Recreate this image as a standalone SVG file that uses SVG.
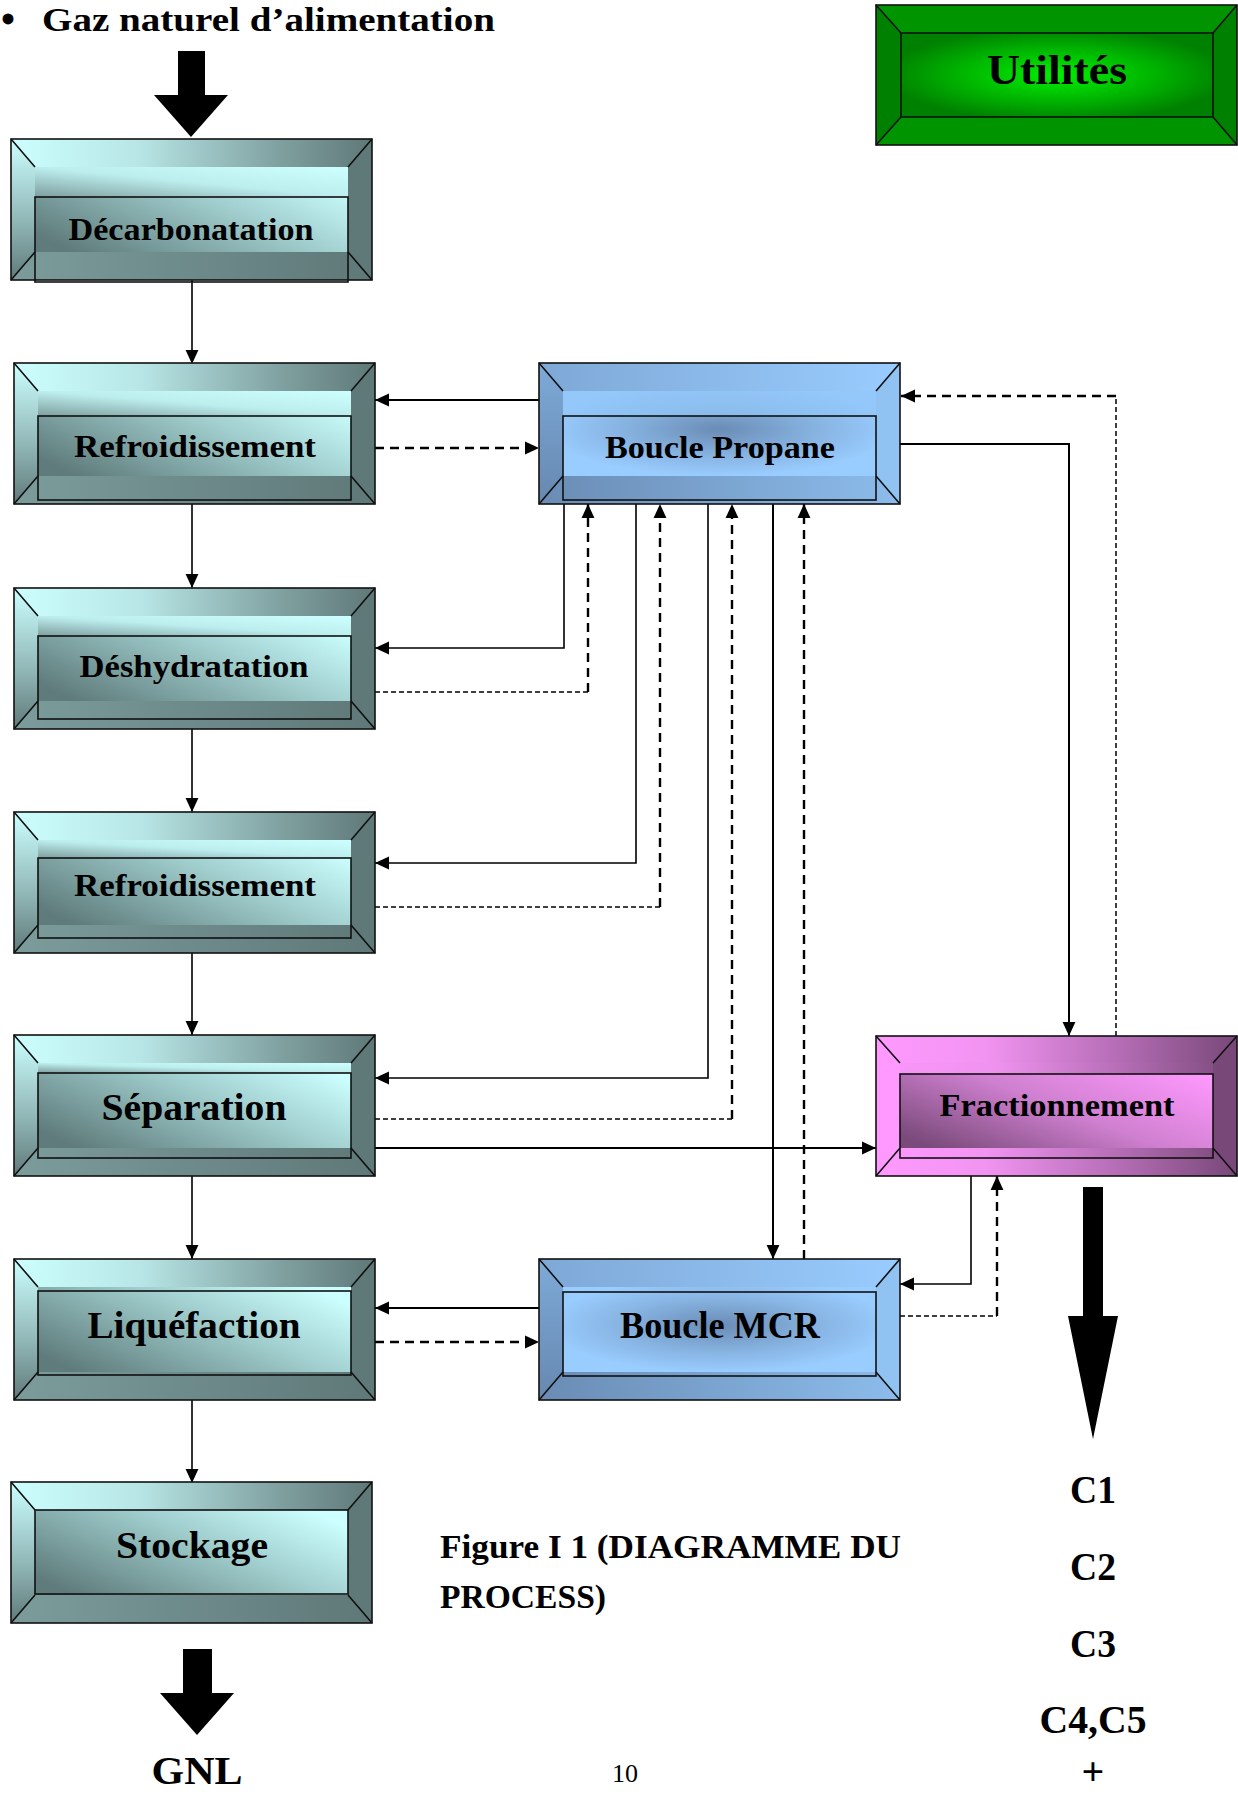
<svg xmlns="http://www.w3.org/2000/svg" xmlns:xlink="http://www.w3.org/1999/xlink" width="1238" height="1794" viewBox="0 0 1238 1794">
<style>
.lbl{font-family:"Liberation Serif","DejaVu Serif",serif;font-weight:bold;fill:#000;text-anchor:middle}
.s28{font-size:31px}
.s36{font-size:38px}
.frame{fill:none;stroke:#111;stroke-width:1.6}
.edge{fill:none;stroke:#111;stroke-width:1.6}
.box{fill:none;stroke:#111;stroke-width:1.6}
.sol{fill:none;stroke:#000;stroke-width:2}
.solt{fill:none;stroke:#000;stroke-width:1.6}
.dsh{fill:none;stroke:#000;stroke-width:2.4;stroke-dasharray:9 6}
.dsht{fill:none;stroke:#000;stroke-width:1.5;stroke-dasharray:5 3}
.big{fill:#000}
</style>
<defs>
<marker id="ah" viewBox="0 0 12 12" refX="12" refY="6" markerWidth="14" markerHeight="14" markerUnits="userSpaceOnUse" orient="auto"><path d="M0,0.5 L12,6 L0,11.5 z" fill="#000"/></marker>
<linearGradient id="tTop" x1="0" y1="0" x2="1" y2="0"><stop offset="0" stop-color="#ccffff"/><stop offset="0.35" stop-color="#b8e6e6"/><stop offset="0.75" stop-color="#7f9f9f"/><stop offset="1" stop-color="#5f7878"/></linearGradient>
<linearGradient id="tLeft" x1="0" y1="0" x2="0" y2="1"><stop offset="0" stop-color="#ccffff"/><stop offset="0.6" stop-color="#8fb4b4"/><stop offset="1" stop-color="#607a7a"/></linearGradient>
<linearGradient id="tBot" x1="0" y1="0" x2="1" y2="0"><stop offset="0" stop-color="#7c9c9c"/><stop offset="1" stop-color="#5f7878"/></linearGradient>
<linearGradient id="tFace" x1="0" y1="0.8" x2="1" y2="0.2"><stop offset="0" stop-color="#5f7b7b"/><stop offset="0.55" stop-color="#9cc8c8"/><stop offset="1" stop-color="#ccffff"/></linearGradient>
<linearGradient id="tBand" x1="0" y1="1" x2="1" y2="0"><stop offset="0" stop-color="#7e9e9e"/><stop offset="0.5" stop-color="#bdeeee"/><stop offset="1" stop-color="#ccffff"/></linearGradient>
<linearGradient id="bTop" x1="0" y1="0" x2="1" y2="0"><stop offset="0" stop-color="#7ea8d6"/><stop offset="1" stop-color="#99ccff"/></linearGradient>
<linearGradient id="bLeft" x1="0" y1="0" x2="0" y2="1"><stop offset="0" stop-color="#7eaad8"/><stop offset="1" stop-color="#6688b0"/></linearGradient>
<linearGradient id="bBot" x1="0" y1="0" x2="1" y2="0"><stop offset="0" stop-color="#6a8cb4"/><stop offset="1" stop-color="#8cbcec"/></linearGradient>
<radialGradient id="bFace" cx="0.5" cy="0.45" r="0.55"><stop offset="0" stop-color="#6a8cb5"/><stop offset="0.55" stop-color="#86b2e0"/><stop offset="1" stop-color="#99ccff"/></radialGradient>
<linearGradient id="pTop" x1="0" y1="0" x2="1" y2="0"><stop offset="0" stop-color="#ff99ff"/><stop offset="0.3" stop-color="#f294f2"/><stop offset="0.7" stop-color="#b06ab0"/><stop offset="1" stop-color="#784878"/></linearGradient>
<linearGradient id="pFace" x1="0" y1="0.85" x2="1" y2="0.15"><stop offset="0" stop-color="#7a4a7a"/><stop offset="0.5" stop-color="#d080d0"/><stop offset="1" stop-color="#ff99ff"/></linearGradient>
<radialGradient id="gFace" cx="0.5" cy="0.5" r="0.55"><stop offset="0" stop-color="#00f000"/><stop offset="0.6" stop-color="#00b000"/><stop offset="1" stop-color="#008000"/></radialGradient>
<symbol id="tealBody" viewBox="0 0 361 141" width="361" height="141" overflow="visible">
<rect width="361" height="141" fill="#627d7d"/>
<polygon fill="url(#tTop)" points="0,0 361,0 337,28 24,28"/>
<polygon fill="url(#tLeft)" points="0,0 24,28 24,113 0,141"/>
<polygon fill="#5f7878" points="361,0 337,28 337,113 361,141"/>
<polygon fill="url(#tBot)" points="0,141 24,113 337,113 361,141"/>
<rect fill="url(#tFace)" x="24" y="28" width="313" height="85"/>
<path class="edge" d="M0,0 L24,28 M361,0 L337,28 M0,141 L24,113 M361,141 L337,113"/>
<rect class="frame" width="361" height="141"/>
</symbol>
<symbol id="blueBody" viewBox="0 0 361 141" width="361" height="141" overflow="visible">
<rect width="361" height="141" fill="#8fbff0"/>
<polygon fill="url(#bTop)" points="0,0 361,0 337,28 24,28"/>
<polygon fill="url(#bLeft)" points="0,0 24,28 24,113 0,141"/>
<polygon fill="#90c2f2" points="361,0 337,28 337,113 361,141"/>
<polygon fill="url(#bBot)" points="0,141 24,113 337,113 361,141"/>
<rect fill="url(#bFace)" x="24" y="28" width="313" height="85"/>
<path class="edge" d="M0,0 L24,28 M361,0 L337,28 M0,141 L24,113 M361,141 L337,113"/>
<rect class="frame" width="361" height="141"/>
</symbol>
</defs>

<g id="connectors">
<path class="solt" d="M192,280 V364" marker-end="url(#ah)"/>
<path class="solt" d="M192,504 V588" marker-end="url(#ah)"/>
<path class="solt" d="M192,728 V812" marker-end="url(#ah)"/>
<path class="solt" d="M192,952 V1035" marker-end="url(#ah)"/>
<path class="solt" d="M192,1176 V1259" marker-end="url(#ah)"/>
<path class="solt" d="M192,1399 V1483" marker-end="url(#ah)"/>
<path class="sol" d="M539,400 H375" marker-end="url(#ah)"/>
<path class="dsh" d="M375,448 H539" marker-end="url(#ah)"/>
<path class="solt" d="M564,504 V648 H375" marker-end="url(#ah)"/>
<path class="dsht" d="M375,692 H588"/>
<path class="dsh" d="M588,692 V504" marker-end="url(#ah)"/>
<path class="solt" d="M636,504 V863 H375" marker-end="url(#ah)"/>
<path class="dsht" d="M375,907 H660"/>
<path class="dsh" d="M660,907 V504" marker-end="url(#ah)"/>
<path class="solt" d="M708,504 V1078 H375" marker-end="url(#ah)"/>
<path class="dsht" d="M375,1119 H732"/>
<path class="dsh" d="M732,1119 V504" marker-end="url(#ah)"/>
<path class="sol" d="M773,504 V1259" marker-end="url(#ah)"/>
<path class="dsh" d="M804,1259 V504" marker-end="url(#ah)"/>
<path class="sol" d="M375,1148 H876" marker-end="url(#ah)"/>
<path class="sol" d="M900,444 H1069 V1036" marker-end="url(#ah)"/>
<path class="dsht" d="M1116,1036 V396"/>
<path class="dsh" d="M1116,396 H901" marker-end="url(#ah)"/>
<path class="solt" d="M971,1176 V1284 H900" marker-end="url(#ah)"/>
<path class="dsht" d="M900,1316 H997"/>
<path class="dsh" d="M997,1316 V1176" marker-end="url(#ah)"/>
<path class="sol" d="M539,1308 H375" marker-end="url(#ah)"/>
<path class="dsh" d="M375,1342 H539" marker-end="url(#ah)"/>
<polygon class="big" points="178,51 205,51 205,95 228,95 191,137 154,95 178,95"/>
<polygon class="big" points="1083,1187 1103,1187 1103,1316 1118,1316 1093,1439 1068,1316 1083,1316"/>
<polygon class="big" points="183,1649 212,1649 212,1693 234,1693 197,1735 160,1693 183,1693"/>
</g>

<g id="n-decarbonatation">
<use xlink:href="#tealBody" x="11" y="139"/>
<rect fill="url(#tBand)" x="35" y="167" width="313" height="30"/>
<rect class="box" x="35" y="197" width="313" height="85"/>
<text class="lbl s28" x="191" y="240" textLength="245" lengthAdjust="spacingAndGlyphs">Décarbonatation</text>
</g>
<g id="n-refroidissement1">
<use xlink:href="#tealBody" x="14" y="363"/>
<rect fill="url(#tBand)" x="38" y="391" width="313" height="25"/>
<rect class="box" x="38" y="416" width="313" height="84"/>
<text class="lbl s28" x="195" y="457" textLength="242" lengthAdjust="spacingAndGlyphs">Refroidissement</text>
</g>
<g id="n-deshydratation">
<use xlink:href="#tealBody" x="14" y="588"/>
<rect fill="url(#tBand)" x="38" y="616" width="313" height="20"/>
<rect class="box" x="38" y="636" width="313" height="83"/>
<text class="lbl s28" x="194" y="677" textLength="229" lengthAdjust="spacingAndGlyphs">Déshydratation</text>
</g>
<g id="n-refroidissement2">
<use xlink:href="#tealBody" x="14" y="812"/>
<rect fill="url(#tBand)" x="38" y="840" width="313" height="18"/>
<rect class="box" x="38" y="858" width="313" height="80"/>
<text class="lbl s28" x="195" y="896" textLength="242" lengthAdjust="spacingAndGlyphs">Refroidissement</text>
</g>
<g id="n-separation">
<use xlink:href="#tealBody" x="14" y="1035"/>
<rect fill="url(#tBand)" x="38" y="1063" width="313" height="10"/>
<rect class="box" x="38" y="1073" width="313" height="85"/>
<text class="lbl s36" x="194" y="1120" textLength="185" lengthAdjust="spacingAndGlyphs">Séparation</text>
</g>
<g id="n-liquefaction">
<use xlink:href="#tealBody" x="14" y="1259"/>
<rect class="box" x="38" y="1291" width="313" height="84"/>
<text class="lbl s36" x="194" y="1338" textLength="213" lengthAdjust="spacingAndGlyphs">Liquéfaction</text>
</g>
<g id="n-stockage">
<use xlink:href="#tealBody" x="11" y="1482"/>
<rect class="box" x="35" y="1510" width="313" height="84"/>
<text class="lbl s36" x="192" y="1558" textLength="152" lengthAdjust="spacingAndGlyphs">Stockage</text>
</g>
<g id="n-boucle-propane">
<use xlink:href="#blueBody" x="539" y="363"/>
<rect fill="#92c6f8" x="563" y="391" width="313" height="25" opacity="0.7"/>
<rect class="box" x="563" y="416" width="313" height="84"/>
<text class="lbl s28" x="720" y="458" textLength="230" lengthAdjust="spacingAndGlyphs">Boucle Propane</text>
</g>
<g id="n-boucle-mcr">
<use xlink:href="#blueBody" x="539" y="1259"/>
<rect class="box" x="563" y="1292" width="313" height="84"/>
<text class="lbl s36" x="720" y="1338" textLength="200" lengthAdjust="spacingAndGlyphs">Boucle MCR</text>
</g>
<g id="n-fractionnement">
<rect x="876" y="1036" width="361" height="140" fill="#c070c0"/>
<polygon fill="url(#pTop)" points="876,1036 1237,1036 1213,1063 900,1063"/>
<polygon fill="#ff99ff" points="876,1036 900,1063 900,1148 876,1176"/>
<polygon fill="#784878" points="1237,1036 1213,1063 1213,1148 1237,1176"/>
<polygon fill="url(#pTop)" points="876,1176 900,1148 1213,1148 1237,1176"/>
<rect fill="url(#pFace)" x="900" y="1063" width="313" height="85"/>
<rect fill="url(#pTop)" x="900" y="1063" width="313" height="11" opacity="0.9"/>
<path class="edge" d="M876,1036 L900,1063 M1237,1036 L1213,1063 M876,1176 L900,1148 M1237,1176 L1213,1148"/>
<rect class="frame" x="876" y="1036" width="361" height="140"/>
<rect class="box" x="900" y="1074" width="313" height="84"/>
<text class="lbl s28" x="1057" y="1116" textLength="235" lengthAdjust="spacingAndGlyphs">Fractionnement</text>
</g>
<g id="n-utilites">
<rect x="876" y="5" width="361" height="140" fill="#008000"/>
<polygon fill="#009400" points="876,5 1237,5 1213,33 901,33"/>
<polygon fill="#009400" points="876,145 901,117 1213,117 1237,145"/>
<rect fill="url(#gFace)" x="901" y="33" width="312" height="84"/>
<path class="edge" d="M876,5 L901,33 M1237,5 L1213,33 M876,145 L901,117 M1237,145 L1213,117"/>
<rect class="frame" x="876" y="5" width="361" height="140"/>
<rect class="box" x="901" y="33" width="312" height="84"/>
<text class="lbl" style="font-size:42px" x="1057" y="84" textLength="140" lengthAdjust="spacingAndGlyphs">Utilités</text>
</g>

<g id="texts">
<text class="lbl" style="font-size:40px;text-anchor:start" x="1" y="33">•</text>
<text class="lbl" style="font-size:34px;text-anchor:start" x="42" y="31" textLength="453" lengthAdjust="spacingAndGlyphs">Gaz naturel d’alimentation</text>
<text class="lbl" style="font-size:33px;text-anchor:start" x="440" y="1558" textLength="461" lengthAdjust="spacingAndGlyphs">Figure I 1 (DIAGRAMME DU</text>
<text class="lbl" style="font-size:33px;text-anchor:start" x="440" y="1608" textLength="166" lengthAdjust="spacingAndGlyphs">PROCESS)</text>
<text class="lbl" style="font-size:41px" x="1093" y="1503" textLength="46" lengthAdjust="spacingAndGlyphs">C1</text>
<text class="lbl" style="font-size:41px" x="1093" y="1580" textLength="46" lengthAdjust="spacingAndGlyphs">C2</text>
<text class="lbl" style="font-size:41px" x="1093" y="1657" textLength="46" lengthAdjust="spacingAndGlyphs">C3</text>
<text class="lbl" style="font-size:41px" x="1093" y="1733" textLength="107" lengthAdjust="spacingAndGlyphs">C4,C5</text>
<text class="lbl" style="font-size:40px" x="1093" y="1785">+</text>
<text class="lbl" style="font-size:40px" x="197" y="1784" textLength="91" lengthAdjust="spacingAndGlyphs">GNL</text>
<text style="font-family:'Liberation Serif',serif;font-size:26px;text-anchor:middle" x="625" y="1782">10</text>
</g>
</svg>
